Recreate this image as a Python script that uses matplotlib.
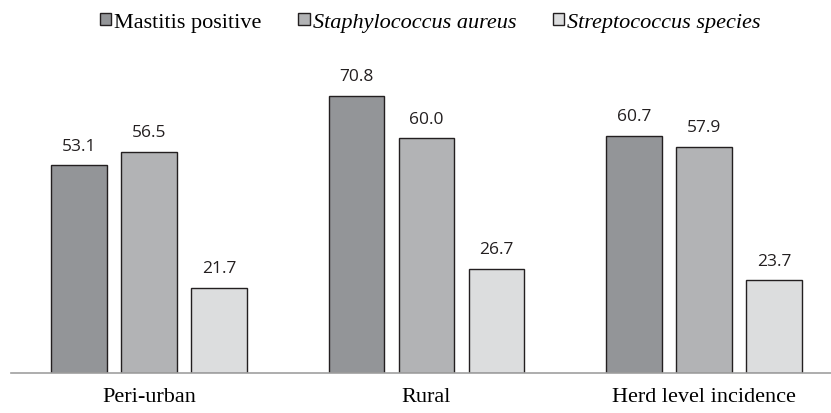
import numpy as np
import matplotlib.pyplot as plt
from matplotlib.patches import Patch

# data
categories = ["Peri-urban", "Rural", "Herd level incidence"]
series_names = ["Mastitis positive", "Staphylococcus aureus", "Streptococcus species"]
mastitis = [53.1, 70.8, 60.7]
staph = [56.5, 60.0, 57.9]
strep = [21.7, 26.7, 23.7]

colors = ["#939598", "#b2b3b5", "#dcddde"]
edge = "#231f20"

fig = plt.figure(figsize=(8.31, 4.14), dpi=100)
ax = fig.add_axes([11 / 831, 1 - 374 / 414, 820 / 831, 374 / 414 - 0.02])

x = np.arange(len(categories))
w = 0.2
step = 0.252
values = [mastitis, staph, strep]
for i, vals in enumerate(values):
    bars = ax.bar(x + (i - 1) * step, vals, width=w, color=colors[i],
                  edgecolor=edge, linewidth=1.0, zorder=2)
    for b, v in zip(bars, vals):
        ax.text(b.get_x() + b.get_width() / 2, v + 3.0, f"{v:.1f}",
                ha="center", va="bottom", fontsize=12.5,
                family="Open Sans", color="#231f20")

ax.set_xlim(-0.497, 2.458)
ax.set_ylim(0, 374 * 0.98 / 3.92)
for s in ["top", "right", "left"]:
    ax.spines[s].set_visible(False)
ax.spines["bottom"].set_color("#a0a0a0")
ax.spines["bottom"].set_linewidth(1.2)
ax.set_yticks([])
ax.set_xticks(x)
ax.set_xticklabels(categories, family="Liberation Serif", fontsize=16)
ax.tick_params(axis="x", length=0, pad=10)

handles = [Patch(facecolor=c, edgecolor=edge, linewidth=1.0) for c in colors]
leg = fig.legend(handles, series_names, loc="upper center",
                 bbox_to_anchor=(0.518, 1.015), ncol=3, frameon=False,
                 handlelength=0.5, handleheight=0.5, handletextpad=0.15,
                 columnspacing=1.65,
                 prop={"family": "Liberation Serif", "size": 16})
for t in leg.get_texts()[1:]:
    t.set_fontstyle("italic")

fig.savefig("out.png", dpi=100)
